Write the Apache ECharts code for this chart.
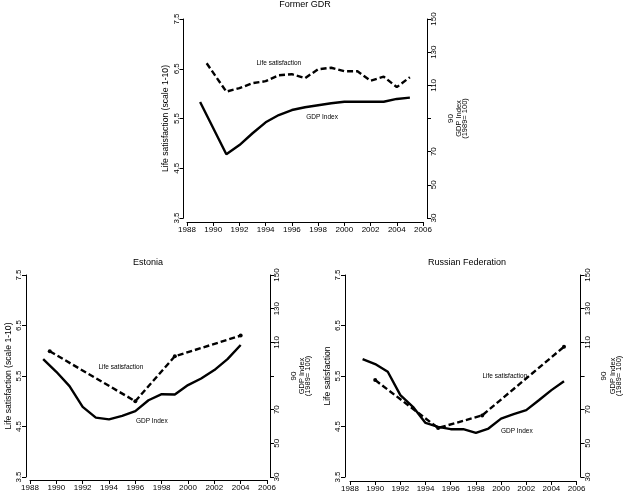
<!DOCTYPE html>
<html><head><meta charset="utf-8">
<script src="https://cdn.jsdelivr.net/npm/echarts@6/dist/echarts.min.js"></script>
<style>html,body{margin:0;padding:0;background:#fff}#c{width:624px;height:497px}</style>
</head><body><div id="c"></div>
<script>
// ---- Data ----
const titles = ['Former GDR', 'Estonia', 'Russian Federation'];
const leftNames = ['Life satisfaction (scale 1-10)', 'Life satisfaction (scale 1-10)', 'Life satisfaction'];
const rightName = 'GDP Index\n(1989= 100)';
const lsTicks = [3.5, 4.5, 5.5, 6.5, 7.5];
const gdpTicks = [30, 50, 70, 90, 110, 130, 150];
const yearTicks = [1988, 1990, 1992, 1994, 1996, 1998, 2000, 2002, 2004, 2006];

const gdrLSYears = [1989.5, 1991, 1992, 1993, 1994, 1995, 1996, 1997, 1998, 1999, 2000, 2001, 2002, 2003, 2004, 2005];
const gdrLS = [6.61, 6.04, 6.11, 6.21, 6.25, 6.37, 6.39, 6.31, 6.49, 6.52, 6.45, 6.45, 6.26, 6.34, 6.13, 6.33];
const gdrGDPYears = [1989, 1991, 1992, 1993, 1994, 1995, 1996, 1997, 1998, 1999, 2000, 2001, 2002, 2003, 2004, 2005];
const gdrGDP = [100, 68.4, 74.0, 81.1, 87.7, 92.1, 95.1, 96.8, 98.0, 99.2, 100.1, 100.1, 100.1, 100.1, 101.8, 102.6];

const estLSYears = [1989.5, 1996, 1999, 2004];
const estLS = [5.99, 5.0, 5.89, 6.30];
const estGDPYears = [1989, 1990, 1991, 1992, 1993, 1994, 1995, 1996, 1997, 1998, 1999, 2000, 2001, 2002, 2003, 2004];
const estGDP = [100, 92.5, 84.0, 71.7, 65.3, 64.2, 66.3, 69.1, 75.6, 79.2, 79.0, 84.6, 88.5, 93.5, 100.0, 108.4];

const rusLSYears = [1990, 1995, 1998.5, 2005];
const rusLS = [5.42, 4.47, 4.72, 6.08];
const rusGDPYears = [1989, 1990, 1991, 1992, 1993, 1994, 1995, 1996, 1997, 1998, 1999, 2000, 2001, 2002, 2003, 2004, 2005];
const rusGDP = [100, 97.1, 92.5, 78.6, 71.7, 62.1, 59.8, 58.4, 58.4, 56.2, 58.8, 64.7, 67.3, 69.7, 75.6, 81.6, 86.9];

// annotation anchors (in data units): [year, value]
const annLS = [[1995.0, 6.62], [1994.9, 5.68], [2000.3, 5.5]];
const annGDP = [[1998.3, 90.5], [1997.25, 63.3], [2001.25, 57.2]];

// ---- Layout ----
const FONT = 'Liberation Sans, Arial, sans-serif';
const grids = [
  {left: 187, right: 201, top: 19, bottom: 279},
  {left: 30, right: 357, top: 275, bottom: 20},
  {left: 350, right: 39, top: 275, bottom: 20}
];
const offs = [ {x: 4, l: 3.5, r: 4}, {x: 3, l: 4, r: 3}, {x: 4, l: 5, r: 4} ];
const axLine = {show: true, onZero: false, lineStyle: {color: '#000', width: 1}};
const axTick = {show: true, length: 4, lineStyle: {color: '#000', width: 1}};

const xAxes = grids.map((g, i) => ({
  type: 'value', gridIndex: i, min: yearTicks[0], max: yearTicks[yearTicks.length - 1], interval: 2,
  offset: offs[i].x, axisLine: axLine, axisTick: axTick, splitLine: {show: false},
  axisLabel: {color: '#000', fontSize: 8, fontFamily: FONT, margin: 4, formatter: v => String(v)}
}));

const yAxes = [];
grids.forEach((g, i) => {
  yAxes.push({
    type: 'value', gridIndex: i, position: 'left', min: lsTicks[0], max: lsTicks[lsTicks.length - 1], interval: 1,
    offset: offs[i].l, axisLine: axLine, axisTick: axTick, splitLine: {show: false},
    axisLabel: {color: '#000', fontSize: 8, fontFamily: FONT, rotate: 90, margin: 3, formatter: v => v.toFixed(1)},
    name: leftNames[i], nameLocation: 'middle', nameGap: 13, nameRotate: 90,
    nameTextStyle: {color: '#000', fontSize: 8.6, fontFamily: FONT}
  });
  yAxes.push({
    type: 'value', gridIndex: i, position: 'right', min: gdpTicks[0], max: gdpTicks[gdpTicks.length - 1], interval: 20,
    offset: offs[i].r, axisLine: axLine, axisTick: axTick, splitLine: {show: false},
    axisLabel: {color: '#000', fontSize: 8, fontFamily: FONT, rotate: 90, margin: 3,
      formatter: v => v === 90 ? '{s|90}' : String(v),
      rich: {s: {fontSize: 8, fontFamily: FONT, color: '#000', lineHeight: 41}}},
    name: rightName, nameLocation: 'middle', nameGap: i === 0 ? 16 : 14, nameRotate: 90,
    nameTextStyle: {color: '#000', fontSize: 7.5, fontFamily: FONT, lineHeight: 6}
  });
});

function pairs(xs, ys) { return xs.map((x, k) => [x, ys[k]]); }
function ann(coord, text) {
  return {
    symbol: 'circle', symbolSize: 0, silent: true,
    label: {show: true, position: 'inside', color: '#000', fontSize: 6.5, fontFamily: FONT, formatter: text},
    data: [{coord: coord}]
  };
}

const lsSets = [[gdrLSYears, gdrLS], [estLSYears, estLS], [rusLSYears, rusLS]];
const gdpSets = [[gdrGDPYears, gdrGDP], [estGDPYears, estGDP], [rusGDPYears, rusGDP]];
const series = [];
grids.forEach((g, i) => {
  series.push({
    type: 'line', xAxisIndex: i, yAxisIndex: 2 * i + 1, data: pairs(gdpSets[i][0], gdpSets[i][1]),
    symbol: 'none', lineStyle: {color: '#000', width: 2.4}, animation: false,
    markPoint: ann(annGDP[i], 'GDP Index')
  });
  series.push({
    type: 'line', xAxisIndex: i, yAxisIndex: 2 * i, data: pairs(lsSets[i][0], lsSets[i][1]),
    symbol: i === 0 ? 'none' : 'circle', symbolSize: 4, showSymbol: i !== 0,
    itemStyle: {color: '#000'},
    lineStyle: {color: '#000', width: 2.4, type: [6, 3]}, animation: false,
    markPoint: ann(annLS[i], 'Life satisfaction')
  });
});

const titleCenters = [[305, 0], [148, 258], [467, 258]];
const chart = echarts.init(document.getElementById('c'), null, {renderer: 'canvas'});
chart.setOption({
  animation: false,
  backgroundColor: '#fff',
  title: titles.map((t, i) => ({
    text: t, left: titleCenters[i][0], top: titleCenters[i][1], textAlign: 'center', padding: 0,
    textStyle: {color: '#000', fontSize: 9, fontWeight: 'normal', fontFamily: FONT}
  })),
  grid: grids,
  xAxis: xAxes,
  yAxis: yAxes,
  series: series
});
</script>
</body></html>
